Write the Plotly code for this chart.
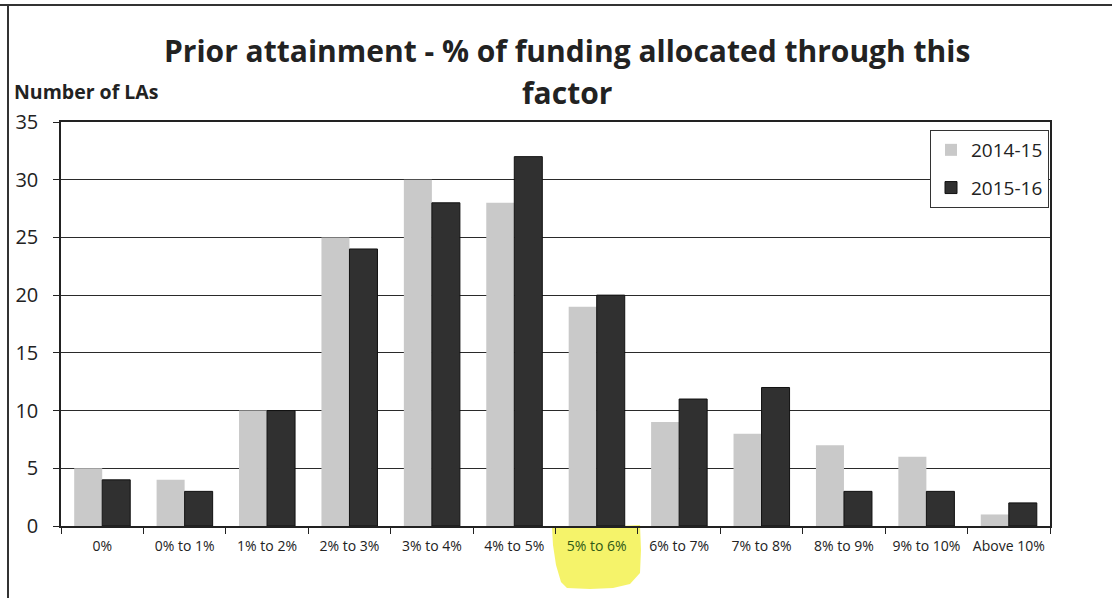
import plotly.graph_objects as go

categories = ["0%", "0% to 1%", "1% to 2%", "2% to 3%", "3% to 4%", "4% to 5%",
              "5% to 6%", "6% to 7%", "7% to 8%", "8% to 9%", "9% to 10%", "Above 10%"]
series_2014_15 = [5, 4, 10, 25, 30, 28, 19, 9, 8, 7, 6, 1]
series_2015_16 = [4, 3, 10, 24, 28, 32, 20, 11, 12, 3, 3, 2]
y_ticks = [0, 5, 10, 15, 20, 25, 30, 35]
highlighted = "5% to 6%"
title_lines = ["Prior attainment - % of funding allocated through this", "factor"]

tick_text = [f"<span style='color:#2f5a16'>{c}</span>" if c == highlighted else c for c in categories]
FONT = "Open Sans"

fig = go.Figure()
fig.add_trace(go.Bar(name="2014-15", x=categories, y=series_2014_15,
                     marker=dict(color="#c9c9c9", line=dict(width=0)),
                     legendgroup="a"))
fig.add_trace(go.Bar(name="2015-16", x=categories, y=series_2015_16,
                     marker=dict(color="#303030", line=dict(color="#111111", width=1)),
                     legendgroup="b"))

W, H = 1112, 602
L, R, T, B = 61, 62, 122, 76
pw, ph = W - L - R, H - T - B

def px(xp):
    return (xp - L) / pw

def py(yp):
    return 1 - (yp - T) / ph

fig.update_layout(
    width=W, height=H,
    margin=dict(l=L, r=R, t=T, b=B),
    paper_bgcolor="white", plot_bgcolor="white",
    barmode="group", bargap=0.32, bargroupgap=0.0,
    font=dict(family=FONT, color="#222222"),
    showlegend=True,
    legend=dict(x=px(930), y=py(130), xanchor="left", yanchor="top",
                bgcolor="white", bordercolor="#333333", borderwidth=1,
                font=dict(size=19, family=FONT, color="#222222"),
                traceorder="grouped", tracegroupgap=10),
    xaxis=dict(tickvals=categories, ticktext=tick_text,
               tickfont=dict(size=14, family=FONT, color="#222222"),
               showline=True, linecolor="#222222", linewidth=1.5, mirror=True,
               ticks="outside", tickson="boundaries", ticklen=6, tickcolor="#222222",
               ticklabelstandoff=6, showgrid=False),
    yaxis=dict(range=[0, 35], tickvals=y_ticks,
               tickfont=dict(size=20, family=FONT, color="#222222"),
               showline=True, linecolor="#222222", linewidth=1.5, mirror=True,
               ticks="outside", ticklen=6, tickcolor="#222222", ticklabelstandoff=11,
               showgrid=True, gridcolor="#2a2a2a", gridwidth=1.2, zeroline=False),
)

for line, yc in zip(title_lines, [50, 93]):
    fig.add_annotation(text=f"<b>{line}</b>",
                       xref="paper", yref="paper", x=px(567), y=py(yc), xanchor="center", yanchor="middle",
                       showarrow=False, align="center",
                       font=dict(size=30, family=FONT, color="#222222"))
fig.add_annotation(text="<b>Number of LAs</b>", xref="paper", yref="paper",
                   x=px(12), y=py(92), xanchor="left", yanchor="middle", showarrow=False,
                   font=dict(size=19.5, family=FONT, color="#222222"))

# yellow highlighter mark behind the highlighted category label
hl = [(552, 528), (600, 527), (640, 525), (641, 550), (640, 573), (630, 584), (613, 588),
      (590, 589), (567, 588), (561, 582), (556, 565), (553, 545)]
path = "M " + " L ".join(f"{px(a):.5f},{py(b):.5f}" for a, b in hl) + " Z"
fig.add_shape(type="path", xref="paper", yref="paper", path=path,
              fillcolor="#f4f25a", line=dict(width=0), layer="below", opacity=0.9)

# outer chart frame (top and left edges)
fig.add_shape(type="line", xref="paper", yref="paper", x0=px(0), x1=px(W), y0=py(5), y1=py(5),
              line=dict(color="#333333", width=2))
fig.add_shape(type="line", xref="paper", yref="paper", x0=px(8), x1=px(8), y0=py(5), y1=py(598),
              line=dict(color="#333333", width=2))

fig.write_html("out.html", config={"displayModeBar": False},
               post_script="document.body.style.margin='0';document.body.style.overflow='hidden';")
